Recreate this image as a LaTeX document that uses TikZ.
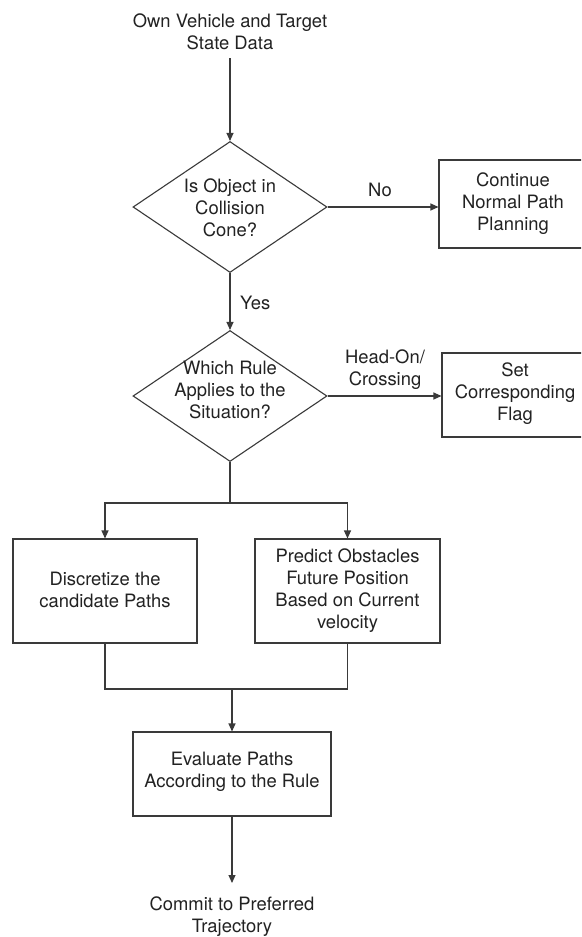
\documentclass[tikz,border=0pt]{standalone}
\usepackage{fontspec}
\setmainfont{TeX Gyre Heros}
\usetikzlibrary{shapes.geometric,arrows.meta}
\definecolor{ln}{HTML}{3A3A3A}
\definecolor{tx}{HTML}{222222}
\begin{document}
\begin{tikzpicture}[x=1pt,y=-1pt,
  every node/.style={text=tx,font=\fontsize{18.4}{22}\selectfont},
  txt/.style={align=center,inner sep=0pt},
  box/.style={draw=ln,line width=1.1pt,rectangle,inner sep=0pt},
  dia/.style={draw=ln,line width=1.1pt,diamond,inner sep=0pt,minimum width=194pt,minimum height=131pt},
  conn/.style={draw=ln,line width=1.1pt},
  arr/.style={conn,-{Triangle[length=8pt,width=7pt]}}]
\useasboundingbox (0,0) rectangle (581,937);
\clip (0,0) rectangle (581,937);
\fill[white] (0,0) rectangle (581,937);
% nodes
\node[txt] (start) at (230,32) {Own Vehicle and Target\\State Data};
\coordinate (s0) at (230,58);
\node[dia] (d1) at (230,207) {};
\node[txt] (d1t) at (230,208) {Is Object in\\Collision\\Cone?};
\node[box,minimum width=148pt,minimum height=88pt] (b1) at (513,204) {};
\node[txt] (b1t) at (513,204) {Continue\\Normal Path\\Planning};
\node[dia] (d2) at (230,396) {};
\node[txt] (d2t) at (230,390) {Which Rule\\Applies to the\\Situation?};
\node[box,minimum width=146pt,minimum height=84pt] (b2) at (515,395) {};
\node[txt] (b2t) at (515,394) {Set\\Corresponding\\Flag};
\node[box,minimum width=184pt,minimum height=104pt] (b3) at (105,591) {};
\node[txt] (b3t) at (105,590) {Discretize the\\candidate Paths};
\node[box,minimum width=185pt,minimum height=104pt] (b4) at (347.5,591) {};
\node[txt] (b4t) at (347.5,591) {Predict Obstacles\\Future Position\\Based on Current\\velocity};
\node[box,minimum width=198pt,minimum height=84pt] (b5) at (232,774) {};
\node[txt] (b5t) at (232,772) {Evaluate Paths\\According to the Rule};
\node[txt] (end) at (232,917) {Commit to Preferred\\Trajectory};
\coordinate (e0) at (232,883);
\coordinate (j1) at (230,503);
\coordinate (j2) at (232,689);
% labels
\node[txt] (lno) at (380,190) {No};
\node[txt,anchor=west] (lyes) at (240,303) {Yes};
\node[txt] (lhead) at (385,370) {Head-On/\\Crossing};
% connectors
\draw[arr] (s0) -- (d1.north);
\draw[arr] (d1.east) -- (b1.west |- d1.east);
\draw[arr] (d1.south) -- (d2.north);
\draw[arr] (d2.east) -- (b2.west |- d2.east);
\draw[conn] (d2.south) -- (j1);
\draw[arr] (j1) -| (b3.north);
\draw[arr] (j1) -| (b4.north);
\draw[conn] (b3.south) |- (j2);
\draw[conn] (b4.south) |- (j2);
\draw[arr] (j2) -- (b5.north);
\draw[arr] (b5.south) -- (e0);
\end{tikzpicture}
\end{document}
